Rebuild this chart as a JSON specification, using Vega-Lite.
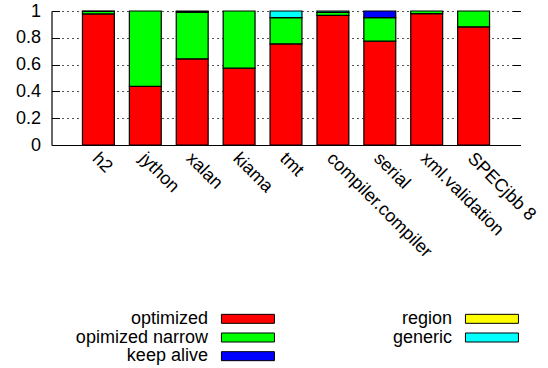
{
  "$schema": "https://vega.github.io/schema/vega-lite/v6.json",
  "padding": {"top": 2, "left": 14.5, "right": 5, "bottom": 5},
  "spacing": 48.5,
  "config": {
    "view": {"stroke": null},
    "font": "Liberation Sans",
    "axis": {"labelFont": "Liberation Sans", "labelFontSize": 18, "labelColor": "#000"},
    "text": {"font": "Liberation Sans"}
  },
  "vconcat": [
    {
      "width": 469,
      "height": 134,
      "data": {"values": [
        {"bench": "h2", "type": "optimized", "k": 0, "value": 0.978},
        {"bench": "h2", "type": "opimized narrow", "k": 1, "value": 0.019},
        {"bench": "h2", "type": "generic", "k": 4, "value": 0.003},
        {"bench": "jython", "type": "optimized", "k": 0, "value": 0.438},
        {"bench": "jython", "type": "opimized narrow", "k": 1, "value": 0.562},
        {"bench": "xalan", "type": "optimized", "k": 0, "value": 0.643},
        {"bench": "xalan", "type": "opimized narrow", "k": 1, "value": 0.349},
        {"bench": "xalan", "type": "keep alive", "k": 2, "value": 0.008},
        {"bench": "kiama", "type": "optimized", "k": 0, "value": 0.573},
        {"bench": "kiama", "type": "opimized narrow", "k": 1, "value": 0.427},
        {"bench": "tmt", "type": "optimized", "k": 0, "value": 0.755},
        {"bench": "tmt", "type": "opimized narrow", "k": 1, "value": 0.195},
        {"bench": "tmt", "type": "generic", "k": 4, "value": 0.05},
        {"bench": "compiler.compiler", "type": "optimized", "k": 0, "value": 0.968},
        {"bench": "compiler.compiler", "type": "opimized narrow", "k": 1, "value": 0.022},
        {"bench": "compiler.compiler", "type": "generic", "k": 4, "value": 0.01},
        {"bench": "serial", "type": "optimized", "k": 0, "value": 0.775},
        {"bench": "serial", "type": "opimized narrow", "k": 1, "value": 0.175},
        {"bench": "serial", "type": "keep alive", "k": 2, "value": 0.05},
        {"bench": "xml.validation", "type": "optimized", "k": 0, "value": 0.98},
        {"bench": "xml.validation", "type": "opimized narrow", "k": 1, "value": 0.02},
        {"bench": "SPECjbb 8", "type": "optimized", "k": 0, "value": 0.882},
        {"bench": "SPECjbb 8", "type": "opimized narrow", "k": 1, "value": 0.118}
      ]},
      "resolve": {"axis": {"y": "independent"}},
      "layer": [
        {
          "mark": {"type": "bar", "stroke": "#000", "strokeWidth": 1.2},
          "encoding": {
            "x": {"field": "bench", "type": "nominal", "sort": null,
              "scale": {"paddingInner": 0.32, "paddingOuter": 0.66},
              "axis": {"title": null, "labelAngle": 45, "labelAlign": "left", "labelBaseline": "top", "ticks": false, "labelPadding": 4, "labelOffset": 3, "domainColor": "#000", "domainWidth": 1.2}},
            "y": {"field": "value", "type": "quantitative", "stack": "zero",
              "scale": {"domain": [0, 1], "nice": false},
              "axis": {"title": null, "values": [0, 0.2, 0.4, 0.6, 0.8, 1], "format": "~g", "tickSize": -8, "tickColor": "#000", "labelPadding": 19, "domainColor": "#000", "domainWidth": 1.2, "grid": true, "gridDash": [2, 3], "gridColor": "#555", "gridOpacity": 1}},
            "color": {"field": "type", "type": "nominal",
              "scale": {"domain": ["optimized", "opimized narrow", "keep alive", "region", "generic"], "range": ["#ff0000", "#00ff00", "#0000ff", "#ffff00", "#00ffff"]},
              "legend": null},
            "order": {"field": "k", "type": "quantitative"}
          }
        },
        {
          "mark": {"type": "rule", "opacity": 0},
          "encoding": {
            "y": {"field": "value", "type": "quantitative",
              "scale": {"domain": [0, 1], "nice": false},
              "axis": {"orient": "right", "title": null, "values": [0, 0.2, 0.4, 0.6, 0.8, 1], "labels": false, "domain": false, "grid": false, "tickSize": -8, "tickColor": "#000"}}
          }
        }
      ]
    },
    {
      "width": 469,
      "height": 56,
      "data": {"values": [
        {"label": "optimized", "col": 0, "row": 0},
        {"label": "opimized narrow", "col": 0, "row": 1},
        {"label": "keep alive", "col": 0, "row": 2},
        {"label": "region", "col": 1, "row": 0},
        {"label": "generic", "col": 1, "row": 1}
      ]},
      "encoding": {
        "x": {"field": "col", "type": "quantitative", "scale": {"domain": [-0.805, 1.117], "nice": false, "zero": false}, "axis": null},
        "y": {"field": "row", "type": "ordinal", "axis": null}
      },
      "layer": [
        {
          "mark": {"type": "point", "shape": "M-1,-0.17H1V0.17H-1Z", "size": 2809, "filled": true, "opacity": 1, "stroke": "#000", "strokeWidth": 1},
          "encoding": {
            "color": {"field": "label", "type": "nominal",
              "scale": {"domain": ["optimized", "opimized narrow", "keep alive", "region", "generic"], "range": ["#ff0000", "#00ff00", "#0000ff", "#ffff00", "#00ffff"]},
              "legend": null}
          }
        },
        {
          "mark": {"type": "text", "align": "right", "baseline": "middle", "dx": -40, "fontSize": 18, "color": "#000"},
          "encoding": {"text": {"field": "label"}}
        }
      ]
    }
  ]
}
